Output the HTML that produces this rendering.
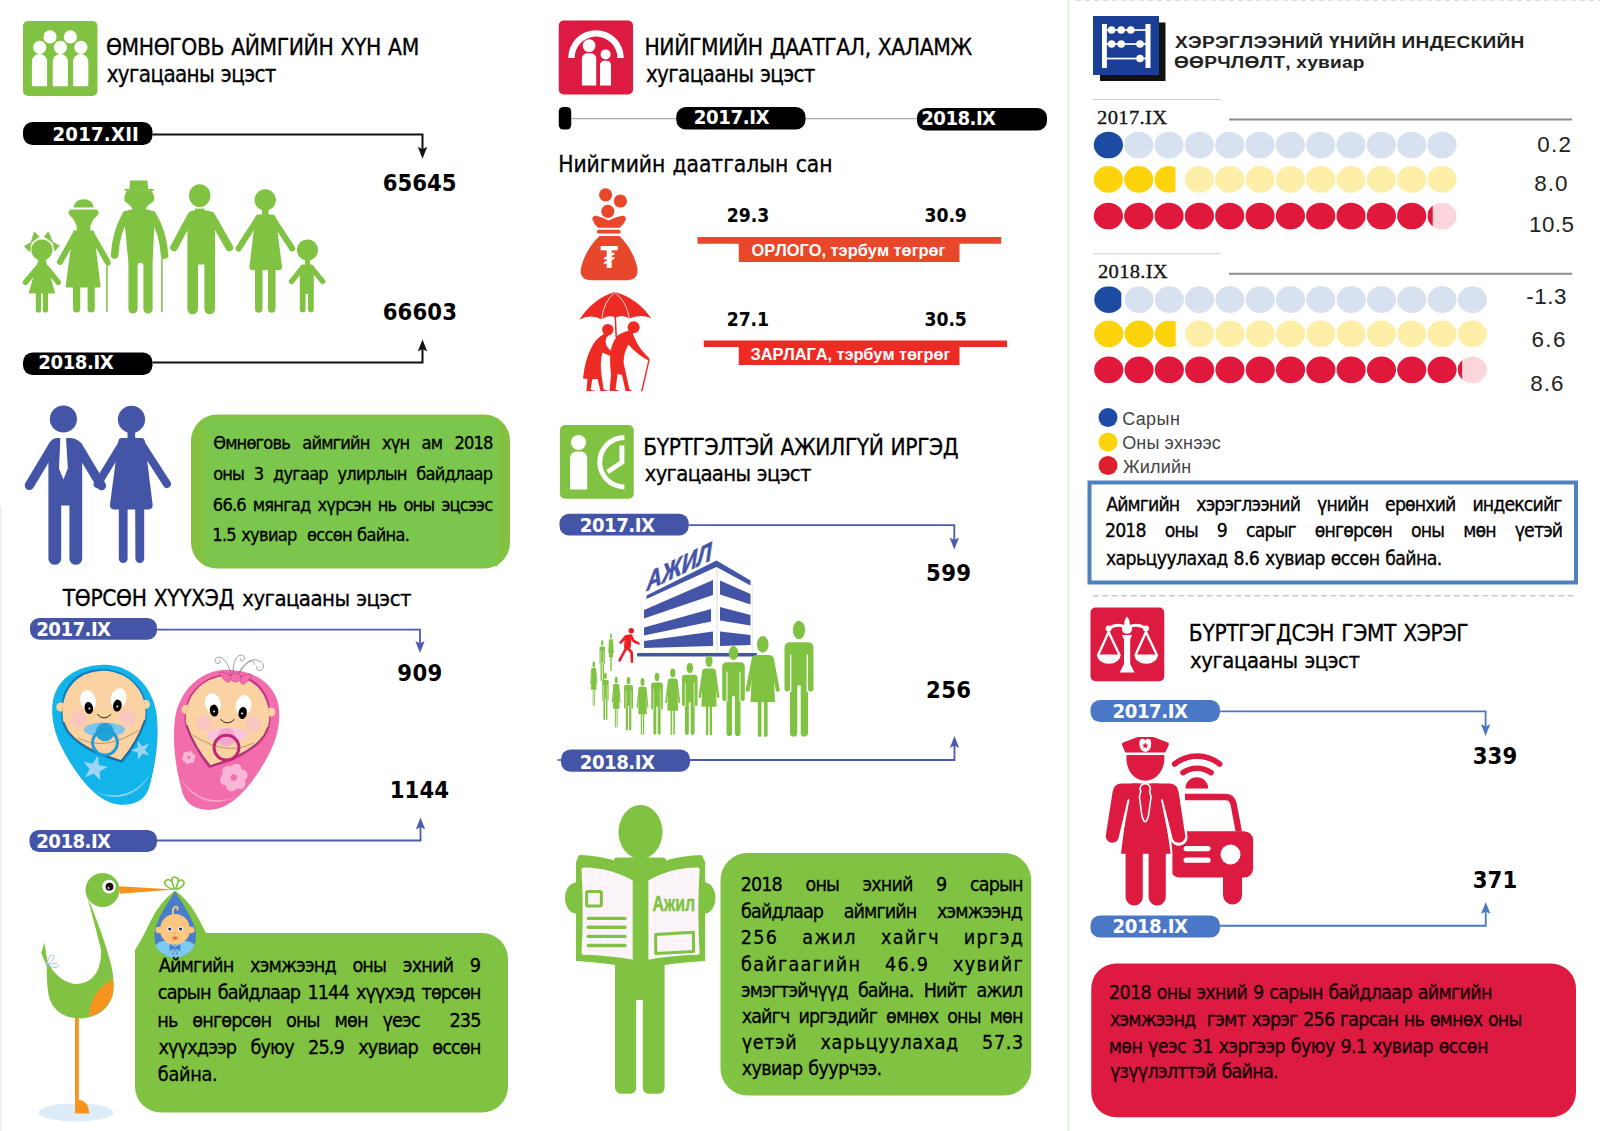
<!DOCTYPE html>
<html lang="mn">
<head>
<meta charset="utf-8">
<title>Өмнөговь аймаг — статистик үзүүлэлт</title>
<style>
html,body{margin:0;padding:0;background:#fff}
#page{position:relative;width:1600px;height:1131px;overflow:hidden;background:#fff}
#gfx{position:absolute;left:0;top:0;width:1600px;height:1131px}
.t{position:absolute;display:block;margin:0;padding:0;white-space:nowrap;line-height:0;font-kerning:none;font-weight:normal;font-style:normal;color:#000}
.t::before{content:"";display:inline-block;width:0;height:40px}
.j{text-align:justify;text-align-last:justify;white-space:normal}
.ft{font-family:"DejaVu Sans Condensed","DejaVu Sans","Liberation Sans",sans-serif}
.fa{font-family:"Liberation Sans","DejaVu Sans",sans-serif}
.fs{font-family:"Liberation Serif","DejaVu Serif",serif;-webkit-text-stroke:0.3px currentColor}
.b{font-weight:bold}
.ft:not(.b){-webkit-text-stroke:0.3px currentColor}
</style>
</head>
<body>
<main id="page">
<svg id="gfx" width="1600" height="1131" viewBox="0 0 1600 1131">
<rect x="23" y="21" width="74.50" height="75.00" rx="5" fill="#80C342" />
<g id="icon_people"><g fill="#fff">
<circle cx="50" cy="36.9" r="6.6"/><circle cx="70.4" cy="36.9" r="6.6"/>
<circle cx="39.75" cy="47.4" r="6.6"/><circle cx="60.4" cy="47.4" r="6.6"/><circle cx="80.9" cy="47.4" r="6.6"/>
<path d="M31.9 86.3V61.5a7.6 7.6 0 0 1 15.2 0V86.3Z"/>
<path d="M52.7 86.3V61.5a7.6 7.6 0 0 1 15.2 0V86.3Z"/>
<path d="M73.1 86.3V61.5a7.6 7.6 0 0 1 15.2 0V86.3Z"/>
</g>
</g>
<rect x="23" y="122" width="129.50" height="23.00" rx="9.5" fill="#000" />
<path d="M152.5 134.4H422.5V152.8" fill="none" stroke="#111" stroke-width="2.0"/>
<path d="M422.5 158.8L417.8 146.8L422.5 149.20000000000002L427.2 146.8Z" fill="#111"/>
<rect x="23" y="352.5" width="129.50" height="22.50" rx="9.5" fill="#000" />
<path d="M152.5 362.5H422.5V345.5" fill="none" stroke="#111" stroke-width="2.0"/>
<path d="M422.5 339.5L417.8 351.5L422.5 349.1L427.2 351.5Z" fill="#111"/>
<g id="family"><g fill="#80C342" stroke="#80C342" stroke-linecap="round" stroke-linejoin="round">
<!-- girl -->
<g>
<circle cx="41.9" cy="250" r="10.6" stroke="none"/>
<path d="M31 242.5L34.4 232L39 236.6ZM31 242.5L24.4 246.3L29.5 251.6ZM53 242.5L48.2 232L44.6 236.6ZM53 242.5L59.4 245.8L55 250.8Z" stroke-width="0.8"/>
<path d="M39 259H45.2L46 263L54.6 293H29.2L38 263Z" stroke-width="1"/>
<path d="M37.5 268L25.6 282.3M46.6 268L58.2 282.3" stroke-width="5.6" fill="none"/>
<path d="M35.8 292H41V310a2.6 2.6 0 0 1 -5.2 0ZM42.8 292H48V310a2.6 2.6 0 0 1 -5.2 0Z" stroke="none"/>
</g>
<!-- grandma -->
<g>
<path d="M73.6 207.4a10 8.2 0 0 1 20 0Z" stroke="none"/>
<path d="M71.5 209.6H96a3.2 3.2 0 0 1 1.6 5.6Q91.5 220 89.6 229H77.4Q75.5 220 69.6 215.2A3.2 3.2 0 0 1 71.5 209.6Z" stroke="none"/>
<path d="M77.6 228H89.4V231.5H93L99.6 286.5H66.6L74 231.5H77.6Z" stroke-width="2"/>
<path d="M75 235L60 262M92 235L107.6 262" stroke-width="6" fill="none"/>
<path d="M73 286H80.2V309a3.6 3.6 0 0 1 -7.2 0ZM87.6 286H94.8V309a3.6 3.6 0 0 1 -7.2 0Z" stroke="none"/>
<path d="M106.9 312V266L110.5 263.5" stroke-width="1.5" fill="none" stroke-linecap="butt"/>
</g>
<!-- grandpa -->
<g>
<path d="M130.2 180.6H147.4L148.2 189H153.8V190.8H124.4V189H129.4Z" stroke="none"/>
<path d="M127 190.5H151.5Q155.5 197 153.4 201.5Q147 205 144.6 211H133.6Q131 205 124.8 201.5Q123 197 127 190.5Z" stroke="none"/>
<path d="M133 209H145.5L155 211.5L152.6 262.8V309a4.6 4.6 0 0 1 -9.2 0V265.6a2.9 2.9 0 0 0 -5.8 0V309a4.6 4.6 0 0 1 -9.2 0V262.8L123.5 211.5Z" stroke="none"/>
<path d="M126 215Q116 232 114.6 255M152.5 215Q163 232 164.6 255" stroke-width="7.6" fill="none"/>
<path d="M161.9 312V259L165.5 256.5" stroke-width="1.6" fill="none" stroke-linecap="butt"/>
</g>
<!-- man -->
<g>
<ellipse cx="199.7" cy="195.6" rx="10.7" ry="11.4" stroke="none"/>
<path d="M195 208.6H204.6V211H195Z" stroke="none"/>
<path d="M193 210.6H207Q215 211 215 219V309a5.3 5.3 0 0 1 -10.6 0V264.4H198V309a5.3 5.3 0 0 1 -10.6 0V219Q187.4 211 193 210.6Z" stroke="none"/>
<path d="M191 216L174 247.5M211.4 216L229.4 247.5" stroke-width="7.6" fill="none"/>
</g>
<!-- woman -->
<g>
<circle cx="265.2" cy="200" r="10.7" stroke="none"/>
<path d="M262 209H268.6V216H262Z" stroke="none"/>
<path d="M258 214.4H272.8Q275.2 214.6 275.6 217L282 266.5Q282.2 270 279 270H252.2Q249 270 249.4 266.5L255.4 217Q255.8 214.6 258 214.4Z" stroke="none"/>
<path d="M258 218.5L238.6 248.5M272.6 218.5L292.2 248.5" stroke-width="6" fill="none"/>
<path d="M255 269H262.5V309a3.75 3.75 0 0 1 -7.5 0ZM268 269H275.5V309a3.75 3.75 0 0 1 -7.5 0Z" stroke="none"/>
</g>
<!-- boy -->
<g>
<circle cx="307.5" cy="250" r="10.6" stroke="none"/>
<path d="M305 259H310V266H305Z" stroke="none"/>
<path d="M302.4 264.4H311.6Q313.8 264.6 313.8 267V309.4a2.9 2.9 0 0 1 -5.8 0V294H305.6V309.4a2.9 2.9 0 0 1 -5.8 0V267Q300 264.6 302.4 264.4Z" stroke="none"/>
<path d="M302 268.4L291.6 281.4M312 268.4L322.6 281.4" stroke-width="5.4" fill="none"/>
</g>
</g>
</g>
<g id="couple"><g fill="#4454A6" stroke="#4454A6" stroke-linecap="round" stroke-linejoin="round">
<!-- man -->
<circle cx="63.4" cy="419" r="13.6" stroke="none"/>
<path d="M56 438H71Q82 439 82.2 450V558.4a5.8 5.8 0 0 1 -12.8 0V505.4H61.2V558.4a5.8 5.8 0 0 1 -12.8 0V450Q48.6 439 56 438Z" stroke="none"/>
<path d="M53 446L29.4 485.4M77.6 446L101.4 485.6" stroke-width="9.4" fill="none"/>
<path d="M57.4 433.6Q63.4 436.6 69.4 433.6L68.4 437.4H58.4Z" fill="#fff" stroke="none"/>
<path d="M60.4 437.2H66L67.8 468.6L63.4 479.6L59 468.6Z" fill="#fff" stroke="none"/>
<!-- woman -->
<circle cx="131.5" cy="419.4" r="13.6" stroke="none"/>
<path d="M127.5 430H135.2V440H127.5Z" stroke="none"/>
<path d="M121.6 438H141.8Q144.4 438.2 144.8 441L152.6 504.6Q153 509.2 148.6 509.4H114Q109.6 509.2 110 504.6L118.4 441Q118.8 438.2 121.6 438Z" stroke="none"/>
<path d="M122.6 443L97.6 484M140.6 443L167 484" stroke-width="8" fill="none"/>
<path d="M118.8 508H127.6V558.6a4.4 4.4 0 0 1 -8.8 0ZM135.2 508H144.2V558.6a4.4 4.4 0 0 1 -8.8 0Z" stroke="none"/>
</g>
</g>
<rect x="191" y="414.6" width="319.00" height="154.00" rx="26" fill="#84C141" />
<rect x="204.4" y="418" width="293.3" height="148" fill="#7BC64C"/>
<rect x="30" y="618" width="127.00" height="21.75" rx="9.5" fill="#4454A6" />
<path d="M157 629.7H420V647" fill="none" stroke="#4C5BB0" stroke-width="1.8"/>
<path d="M420 653L415.3 641L420 643.4L424.7 641Z" fill="#4C5BB0"/>
<rect x="29.5" y="830" width="127.50" height="22.00" rx="9.5" fill="#4454A6" />
<path d="M157 840.5H420.5V823.5" fill="none" stroke="#4C5BB0" stroke-width="1.8"/>
<path d="M420.5 817.5L415.8 829.5L420.5 827.1L425.2 829.5Z" fill="#4C5BB0"/>
<g id="babies"><g><path d="M100 665C126 662 152 682 156.6 714C160 742 154 770 149 788C144 804 126 808 110 802.5C90 795 72 768 61 746C51 726 49 702 57.5 688C67 672 84 666 100 665Z" fill="#12B4EA"/><path d="M62 722C58 700 66 680 84 672.5C104 665 128 670 141 690C147 700 148 712 146 721Q138 744 122.4 763L99 755.6Q66 740 62 722Z" fill="#0D7CC0"/><path d="M88 786C104 800 134 800 150 774C140 796 112 806 88 786Z" fill="#8FD3F4"/><path d="M97.7 755.8L99.0 764.9L107.9 767.1L99.7 771.2L100.3 780.4L93.9 773.8L85.3 777.2L89.6 769.1L83.7 762.0L92.8 763.6Z" fill="#9ED4F3"/><path d="M137.6 740.6L142.1 746.2L148.9 743.8L145.0 749.9L149.3 755.6L142.4 753.8L138.2 759.6L137.8 752.5L131.0 750.3L137.7 747.8Z" fill="#9ED4F3"/><circle cx="60.8" cy="707" r="4.6" fill="#FBD3A2"/><circle cx="145.4" cy="704.4" r="4.6" fill="#FBD3A2"/><path d="M64 722C60 702 68 683 85 675C104 667.5 126 672 138.5 690C145 700 146 712 144.5 720Q137 742 121 760.6L100 753.6Q68 739 64 722Z" fill="#FBD3A2" stroke="#111" stroke-width="0.5"/><path d="M64 722C60 702 68 683 85 675C104 667.5 126 672 138.5 690C145 700 146 712 144.5 720" fill="#FBD3A2" stroke="#FBD3A2" stroke-width="1.2"/><circle cx="78.6" cy="718.8" r="8" fill="#F9C7C0"/><circle cx="127.6" cy="718" r="8" fill="#F9C7C0"/><ellipse cx="88" cy="700.5" rx="7.8" ry="10.5" fill="#fff" transform="rotate(-14 88 700.5)"/><ellipse cx="118.6" cy="698.6" rx="7.8" ry="10.5" fill="#fff" transform="rotate(12 118.6 698.6)"/><ellipse cx="88.8" cy="708" rx="4.2" ry="6" fill="#000" transform="rotate(-10 88.8 708)"/><ellipse cx="117.4" cy="705.6" rx="4.3" ry="6" fill="#000" transform="rotate(8 117.4 705.6)"/><circle cx="89.4" cy="708.6" r="1" fill="#fff"/><circle cx="117.4" cy="706.4" r="1" fill="#fff"/><path d="M97.4 714.6Q104 721.6 110.8 714.6" fill="none" stroke="#111" stroke-width="0.9" stroke-linecap="round"/><path d="M78 738Q105 752 139 730" fill="none" stroke="#6b5a3a" stroke-width="0.5"/><ellipse cx="104.4" cy="729.6" rx="20.6" ry="7.2" fill="#7FC5EB"/><circle cx="105" cy="732" r="9.2" fill="#21A3D4"/><circle cx="105" cy="742.6" r="12.4" fill="none" stroke="#1C9CD8" stroke-width="3"/></g><g transform="translate(331.5 5) scale(-1 1)"><path d="M100 665C126 662 152 682 156.6 714C160 742 154 770 149 788C144 804 126 808 110 802.5C90 795 72 768 61 746C51 726 49 702 57.5 688C67 672 84 666 100 665Z" fill="#F26DAC"/><path d="M62 722C58 700 66 680 84 672.5C104 665 128 670 141 690C147 700 148 712 146 721Q138 744 122.4 763L99 755.6Q66 740 62 722Z" fill="#C8308A"/><path d="M88 786C104 800 134 800 150 774C140 796 112 806 88 786Z" fill="#F9A9CE"/><circle cx="105.8" cy="774.7" r="5.7" fill="#F9B6D6"/><circle cx="99.9" cy="780.6" r="5.7" fill="#F9B6D6"/><circle cx="91.8" cy="778.4" r="5.7" fill="#F9B6D6"/><circle cx="89.7" cy="770.3" r="5.7" fill="#F9B6D6"/><circle cx="95.6" cy="764.4" r="5.7" fill="#F9B6D6"/><circle cx="103.7" cy="766.6" r="5.7" fill="#F9B6D6"/><circle cx="97.75" cy="772.5" r="3.0" fill="#F06EAA"/><circle cx="146.6" cy="753.5" r="2.7" fill="#F9B6D6"/><circle cx="143.8" cy="756.4" r="2.7" fill="#F9B6D6"/><circle cx="139.9" cy="755.3" r="2.7" fill="#F9B6D6"/><circle cx="138.9" cy="751.5" r="2.7" fill="#F9B6D6"/><circle cx="141.7" cy="748.6" r="2.7" fill="#F9B6D6"/><circle cx="145.6" cy="749.7" r="2.7" fill="#F9B6D6"/><circle cx="142.75" cy="752.5" r="1.4" fill="#F06EAA"/><circle cx="60.8" cy="707" r="4.6" fill="#FBD3A2"/><circle cx="145.4" cy="704.4" r="4.6" fill="#FBD3A2"/><path d="M64 722C60 702 68 683 85 675C104 667.5 126 672 138.5 690C145 700 146 712 144.5 720Q137 742 121 760.6L100 753.6Q68 739 64 722Z" fill="#FBD3A2" stroke="#111" stroke-width="0.5"/><path d="M64 722C60 702 68 683 85 675C104 667.5 126 672 138.5 690C145 700 146 712 144.5 720" fill="#FBD3A2" stroke="#FBD3A2" stroke-width="1.2"/><circle cx="78.6" cy="718.8" r="8" fill="#F9C7C0"/><circle cx="127.6" cy="718" r="8" fill="#F9C7C0"/><ellipse cx="88" cy="700.5" rx="7.8" ry="10.5" fill="#fff" transform="rotate(-14 88 700.5)"/><ellipse cx="118.6" cy="698.6" rx="7.8" ry="10.5" fill="#fff" transform="rotate(12 118.6 698.6)"/><ellipse cx="88.8" cy="708" rx="4.2" ry="6" fill="#000" transform="rotate(-10 88.8 708)"/><ellipse cx="117.4" cy="705.6" rx="4.3" ry="6" fill="#000" transform="rotate(8 117.4 705.6)"/><circle cx="89.4" cy="708.6" r="1" fill="#fff"/><circle cx="117.4" cy="706.4" r="1" fill="#fff"/><path d="M97.4 714.6Q104 721.6 110.8 714.6" fill="none" stroke="#111" stroke-width="0.9" stroke-linecap="round"/><path d="M78 738Q105 752 139 730" fill="none" stroke="#6b5a3a" stroke-width="0.5"/><ellipse cx="104.4" cy="729.6" rx="20.6" ry="7.2" fill="#FAC6DE"/><circle cx="105" cy="732" r="9.2" fill="#F6A8CC"/><circle cx="105" cy="742.6" r="12.4" fill="none" stroke="#C2247A" stroke-width="3"/></g><g fill="none" stroke="#666" stroke-width="0.6"><path d="M231 673Q227 660 221 657.5Q215.5 656 215 660.5Q215.5 664.5 219.5 663Q221.5 661 219 660"/><path d="M233 673Q233 659 239 655.5Q244 654 244.6 658Q244 661.6 241 660.6Q239.6 659 241.6 658"/><path d="M238 673.6Q246 660 254 659.6Q263 660.6 263.6 666Q263 671 258.6 670.6Q255.6 669 257 666"/><path d="M239 674Q245 663 251 661Q255 661 254 665"/></g><g fill="#F06EAA" stroke="#C8308A" stroke-width="0.5"><path d="M232 676.6Q222 670.6 219 672.6Q222.6 680 228 682.6Q231.6 681 232 676.6Z"/><path d="M239.6 677.6Q248 672 251.6 674.6Q248.6 682 243 684.6Q239.6 683 239.6 677.6Z"/><ellipse cx="235.6" cy="677.6" rx="5.2" ry="4.4"/></g></g>
<g id="stork"><ellipse cx="76" cy="1112.4" rx="37.5" ry="9" fill="#DCECF8"/>
<path d="M75 1010H78.8V1100Q88 1100 89.4 1113.6H75Z" fill="#F7941E"/>
<path d="M87.4 897.6L91.6 907Q104 938 110.4 962Q115.6 982 112.4 996Q106 1016 82 1018.4Q58 1019 50 1000Q46.4 990 46.8 966L41.2 953L44.4 942.6L47.4 961Q56 980 74 984Q92 984.6 98.6 968Q103 954 99.6 944Q93 918 87.4 897.6Z" fill="#80C342"/>
<path d="M112.6 979.4Q115.4 990 110.6 1000Q104 1012 89.6 1017Q88.6 1006 95 995Q101.6 984.6 112.6 979.4Z" fill="#F7941E"/>
<circle cx="102.5" cy="890" r="17" fill="#80C342"/>
<path d="M119 886.2L175 889.6L119.6 893.8Z" fill="#F7941E"/>
<circle cx="109" cy="886.6" r="6.8" fill="#fff"/>
<circle cx="109.5" cy="886.7" r="3.9" fill="#111"/>
<circle cx="108.6" cy="888" r="0.9" fill="#fff"/>
<path d="M46.6 964.6Q50 952 54 955.6Q55.6 959 47 965Q57 961 59 965.6Q57 970 46.6 964.6Z" fill="#fff" stroke="#5F8FD8" stroke-width="0.5"/>
</g>
<rect x="135" y="933" width="373.00" height="179.50" rx="26" fill="#80C342" />
<g id="bundle"><path d="M175 890.6Q160 902 150.6 921Q141 941 135 950V960H212V933H206Q202 925 195.4 913Q187 899 175 890.6Z" fill="#80C342"/>
<g fill="none" stroke="#80C342" stroke-width="1.7"><path d="M173.6 889.6Q163 886 165 881.4Q168.6 877.6 172 882Q171 877 175 877Q179 877.6 178 882Q181.6 877.6 184 882Q184.6 886.6 176 889.6"/><path d="M172 882L174.6 889.6M178 882L175.6 889.6"/></g>
<path d="M175 891.4Q183 903 190.4 917Q196.6 929 196 938Q194 956 175 957.6Q156 956 154.4 938Q154 929 159.6 917Q167 903 175 891.4Z" fill="#4A7DC9"/>
<path d="M158.6 942.6Q166 938 175 946Q184 938 191.6 942.6Q196 945 193.6 948Q186 957.4 175 957.6Q164 957.4 156.4 948Q155 945 158.6 942.6Z" fill="#7DC9F1"/>
<path d="M175 947.6L170 944.6V950.6ZM175 947.6L180 944.6V950.6ZM175 947.6L172.6 955M175 947.6L177.4 955" fill="#4A7DC9" stroke="#4A7DC9" stroke-width="0.8"/>
<circle cx="158.8" cy="930" r="3.2" fill="#FBC780"/><circle cx="191.2" cy="930" r="3.2" fill="#FBC780"/>
<ellipse cx="175" cy="929.4" rx="15" ry="15.4" fill="#FBC780"/>
<path d="M173 914.6Q172 907.6 176 906.6Q179 907.6 177 910.6" fill="none" stroke="#FBC780" stroke-width="1.8"/>
<circle cx="169.8" cy="929" r="2.5" fill="#fff"/><circle cx="180.6" cy="929" r="2.5" fill="#fff"/>
<circle cx="169.8" cy="929" r="1.6" fill="#1F2A5C"/><circle cx="180.6" cy="929" r="1.6" fill="#1F2A5C"/>
<ellipse cx="175" cy="938" rx="2.8" ry="1.7" fill="#F26A3C"/>
<circle cx="175" cy="933.2" r="1.2" fill="#F5B066"/>
</g>
<rect x="558.75" y="20.5" width="74.25" height="74.00" rx="5" fill="#DD1A3F" />
<g id="icon_care"><g fill="#fff">
<path d="M568.2 57.9a27.8 27.8 0 0 1 55.6 0H617.4a21.4 21.4 0 0 0 -42.8 0Z"/>
<circle cx="589.1" cy="45.6" r="6.4"/>
<path d="M581.9 85.6V58.5a5.2 5.2 0 0 1 5.2 -5.2H591a5.2 5.2 0 0 1 5.2 5.2V85.6Z"/>
<circle cx="605.6" cy="54.4" r="5"/>
<path d="M600 85.6V65a4.2 4.2 0 0 1 4.2 -4.2H606.8a4.2 4.2 0 0 1 4.2 4.2V85.6Z"/>
</g>
</g>
<rect x="558.75" y="107" width="12.50" height="22.50" rx="4.5" fill="#000" />
<path d="M571 118.6H677M805 118.6H918" stroke="#aaa" stroke-width="1.4" fill="none"/>
<rect x="676.25" y="107" width="129.25" height="22.50" rx="9.5" fill="#000" />
<rect x="917" y="108" width="130.00" height="22.50" rx="9.5" fill="#000" />
<g id="moneybag"><g fill="#E8472B">
<circle cx="605.6" cy="194.8" r="6.6"/><circle cx="620.4" cy="201" r="6.6"/><circle cx="607.8" cy="211.3" r="6.6"/>
<path d="M592.4 219.4Q592 215.4 596.4 215.8Q603 217.6 608.6 220.4Q616 217 622 215.8Q626.4 215.6 625.8 219.6Q624 224.4 619.6 227.8H598.2Q594 224.4 592.4 219.4Z"/>
<rect x="597" y="229.8" width="23.6" height="3.8" rx="1.6"/>
<path d="M599.6 236H619.4Q630 246 635.4 261Q638.6 270 637 274.6Q635 280.2 627 280.2H591Q583 280.2 581.2 274.6Q579.6 270 583 261Q588.6 246 599.6 236Z"/>
</g>
<text transform="translate(609.2 268) scale(0.84 1)" text-anchor="middle" font-family="'DejaVu Sans','Liberation Sans',sans-serif" font-weight="bold" font-size="30" fill="#fff">₮</text>
</g>
<g id="umbrella"><g fill="#EE2A24" stroke="none">
<path d="M614.8 292Q594 298 579.4 319.4Q591 313.6 601.6 319.4Q608 314.4 615.4 317.6Q622.6 314 629.4 318.6Q640 313.4 651.2 318.2Q637 298 614.8 292Z"/>
<path d="M614.6 317H616L617 337H615.4Z"/>
<circle cx="607.8" cy="329.6" r="5.7"/>
<path d="M604.6 333.6Q596 338 590.6 349Q584.6 362 583 378.4L587.4 379L586.4 391H595L590.6 389.6L592.4 379H597.6L600.4 391H609L603.6 389.4L602 378.4Q599.4 364 602.4 352.6L610.4 356L612 351.6Q605.4 347 605.6 341Q606 337 609 335Z"/>
<circle cx="633.6" cy="327.2" r="6"/>
<path d="M629 330.6Q620 333 616.6 336.6Q611.6 344 610.6 352Q609.4 362 611 374L609.6 391H619.4L615.6 389.4L617.6 374L622 375L625.6 391H632.6L629.4 389.2L623.6 363Q623.6 352 628.6 344.6Q636 354 648.6 360.6L649.6 358.4Q639 349 634.6 338Q633 334 632.6 332Z"/>
<path d="M648.4 359.4L649.8 359.8L642.4 391.4L641 391.2Z"/>
</g>
<g fill="none" stroke="#fff" stroke-width="0.8"><path d="M614.8 292.4Q603.4 302 601.6 319.4"/><path d="M614.8 292.4Q627 302 629.4 318.6"/></g>
</g>
<path d="M697.5 237H1001.25V243.75H959.5V262H738.75V243.75H697.5Z" fill="#E8472B"/>
<path d="M703.75 340.5H1007V347H959.5V365H738.75V347H703.75Z" fill="#EE2A24"/>
<rect x="560" y="425" width="73.75" height="73.75" rx="5" fill="#80C342" />
<g id="icon_job"><g fill="#fff">
<circle cx="578.5" cy="442.5" r="7.6"/>
<path d="M570 489.4V458a6.6 6.6 0 0 1 6.6 -6.6H580.6a6.6 6.6 0 0 1 6.6 6.6V489.4Z"/>
<path d="M624.4 435V440A22.2 22.2 0 0 0 624.4 484.4V489.4A27.2 27.2 0 0 1 624.4 435Z"/>
<path d="M619.4 445.6H624.4V463.6L608.8 474L606.2 470L619.4 461Z"/>
</g>
</g>
<rect x="559.5" y="513.75" width="129.25" height="21.75" rx="9.5" fill="#4454A6" />
<path d="M688.75 525.1H954.3V543.6" fill="none" stroke="#4C5BB0" stroke-width="1.8"/>
<path d="M954.3 549.6L949.5999999999999 537.6L954.3 540.0L959.0 537.6Z" fill="#4C5BB0"/>
<path d="M557.5 760H562" stroke="#4B5BB0" stroke-width="1.6"/>
<rect x="561" y="749.5" width="129.00" height="22.25" rx="9.5" fill="#4454A6" />
<path d="M690 760H954.5V742" fill="none" stroke="#4C5BB0" stroke-width="1.8"/>
<path d="M954.5 736L949.8 748L954.5 745.6L959.2 748Z" fill="#4C5BB0"/>
<g id="building"><path d="M641.4 601L717 564.5L752.6 585V653H641.4Z" fill="#fff" stroke="#dfe8dc" stroke-width="0.8"/><path d="M717 567V653" stroke="#d5dde4" stroke-width="1" fill="none"/><g fill="#4454A6"><path d="M646.5 599V595.5L716.5 560.5L750.5 580.5V585.5L716.5 567Z"/><path d="M644 610L713 580V595L644 618.5Z"/><path d="M644 627.5L711 609V621.5L644 635.5Z"/><path d="M644 641L713 631.5V646L644 648Z"/><path d="M720 580.5L750.5 594V604.5L720 594.5Z"/><path d="M720 607L750.5 615V625.5L720 620.5Z"/><path d="M720 631.5L750.5 635V645L720 646Z"/><rect x="637" y="653" width="120" height="3.6" rx="1"/></g><text transform="translate(646.5 591) skewY(-25.7) scale(0.82 1)" font-family="'Liberation Sans','DejaVu Sans',sans-serif" font-weight="bold" font-style="italic" font-size="26" fill="#4454A6" stroke="#4454A6" stroke-width="0.7">АЖИЛ</text></g>
<g id="queue"><g fill="#80C342"><ellipse cx="593.8" cy="664.4" rx="1.3" ry="3.2"/><path d="M592.4 668.1H595.1Q596.0 668.1 596.0 668.9L596.5 689.7H591.0L591.5 668.9Q591.5 668.1 592.4 668.1Z"/><path d="M591.8 668.9L590.5 684.0M595.7 668.9L597.0 684.0" fill="none" stroke="#80C342" stroke-width="0.9" stroke-linecap="round"/><path d="M592.7 688.7h0.8V705.6a0.4 0.4 0 0 1 -0.8 0Z"/><path d="M594.0 688.7h0.8V705.6a0.4 0.4 0 0 1 -0.8 0Z"/><ellipse cx="602.2" cy="643.0" rx="1.2" ry="3.0"/><path d="M600.6 646.5H603.9Q605.0 646.5 605.0 647.6V663.8a0.5 0.5 0 0 1 -1.0 0V648.3H604.0V680.3a0.7 0.7 0 0 1 -1.4 0V662.4H601.9V680.3a0.7 0.7 0 0 1 -1.4 0V648.3H600.5V663.8a0.5 0.5 0 0 1 -1.0 0V647.6Q599.5 646.5 600.6 646.5Z"/><path d="M600.8 651.0V664.3M603.7 651.0V664.3" stroke="#fff" stroke-width="0.50" fill="none"/><ellipse cx="611.0" cy="636.0" rx="1.0" ry="2.8"/><path d="M609.9 639.2H612.1Q612.8 639.2 612.8 639.8L613.2 657.3H608.8L609.2 639.8Q609.2 639.2 609.9 639.2Z"/><path d="M609.4 639.8L608.4 652.6M612.6 639.8L613.6 652.6" fill="none" stroke="#80C342" stroke-width="0.7" stroke-linecap="round"/><path d="M610.1 656.3h0.7V670.7a0.3 0.3 0 0 1 -0.7 0Z"/><path d="M611.2 656.3h0.7V670.7a0.3 0.3 0 0 1 -0.7 0Z"/><ellipse cx="605.4" cy="676.0" rx="1.4" ry="3.2"/><path d="M603.4 679.9H607.4Q608.6 679.9 608.6 681.1V699.9a0.6 0.6 0 0 1 -1.2 0V681.9H607.4V719.2a0.8 0.8 0 0 1 -1.6 0V698.3H605.0V719.2a0.8 0.8 0 0 1 -1.6 0V681.9H603.4V699.9a0.6 0.6 0 0 1 -1.2 0V681.1Q602.1 679.9 603.4 679.9Z"/><path d="M603.6 685.1V700.5M607.2 685.1V700.5" stroke="#fff" stroke-width="0.50" fill="none"/><ellipse cx="616.2" cy="680.0" rx="1.5" ry="3.3"/><path d="M614.6 683.9H617.9Q619.0 683.9 619.0 684.8L619.5 708.8H613.0L613.5 684.8Q613.5 683.9 614.6 683.9Z"/><path d="M613.9 684.8L612.3 702.2M618.6 684.8L620.2 702.2" fill="none" stroke="#80C342" stroke-width="1.1" stroke-linecap="round"/><path d="M614.9 707.8h1.0V727.0a0.5 0.5 0 0 1 -1.0 0Z"/><path d="M616.6 707.8h1.0V727.0a0.5 0.5 0 0 1 -1.0 0Z"/><ellipse cx="628.5" cy="680.6" rx="1.9" ry="3.6"/><path d="M625.8 685.1H631.2Q633.0 685.1 633.0 686.9V707.9a0.9 0.9 0 0 1 -1.7 0V688.0H631.3V729.5a1.1 1.1 0 0 1 -2.2 0V706.0H628.0V729.5a1.1 1.1 0 0 1 -2.2 0V688.0H625.7V707.9a0.9 0.9 0 0 1 -1.7 0V686.9Q624.0 685.1 625.8 685.1Z"/><path d="M626.0 691.0V708.7M631.0 691.0V708.7" stroke="#fff" stroke-width="0.50" fill="none"/><ellipse cx="642.5" cy="682.0" rx="2.0" ry="3.9"/><path d="M640.3 686.7H644.7Q646.1 686.7 646.1 687.9L646.8 714.2H638.2L638.9 687.9Q638.9 686.7 640.3 686.7Z"/><path d="M639.3 687.9L637.2 707.0M645.7 687.9L647.8 707.0" fill="none" stroke="#80C342" stroke-width="1.4" stroke-linecap="round"/><path d="M640.8 713.2h1.3V734.3a0.7 0.7 0 0 1 -1.3 0Z"/><path d="M642.9 713.2h1.3V734.3a0.7 0.7 0 0 1 -1.3 0Z"/><ellipse cx="657.0" cy="677.0" rx="2.4" ry="4.2"/><path d="M653.5 682.4H660.5Q662.8 682.4 662.8 684.6V708.5a1.1 1.1 0 0 1 -2.2 0V686.0H660.6V733.3a1.4 1.4 0 0 1 -2.9 0V706.5H656.3V733.3a1.4 1.4 0 0 1 -2.9 0V686.0H653.4V708.5a1.1 1.1 0 0 1 -2.2 0V684.6Q651.2 682.4 653.5 682.4Z"/><path d="M653.7 689.2V709.6M660.3 689.2V709.6" stroke="#fff" stroke-width="0.52" fill="none"/><ellipse cx="672.8" cy="673.0" rx="2.6" ry="4.6"/><path d="M670.0 678.6H675.5Q677.2 678.6 677.2 680.1L678.1 710.8H667.4L668.2 680.1Q668.2 678.6 670.0 678.6Z"/><path d="M668.8 680.1L666.1 702.3M676.7 680.1L679.4 702.3" fill="none" stroke="#80C342" stroke-width="1.8" stroke-linecap="round"/><path d="M670.6 709.8h1.6V734.2a0.8 0.8 0 0 1 -1.6 0Z"/><path d="M673.3 709.8h1.6V734.2a0.8 0.8 0 0 1 -1.6 0Z"/><ellipse cx="689.8" cy="668.0" rx="3.3" ry="5.2"/><path d="M685.1 674.8H694.4Q697.5 674.8 697.5 677.9V704.9a1.5 1.5 0 0 1 -2.9 0V679.7H694.6V733.1a1.9 1.9 0 0 1 -3.9 0V702.5H688.8V733.1a1.9 1.9 0 0 1 -3.9 0V679.7H684.9V704.9a1.5 1.5 0 0 1 -2.9 0V677.9Q682.0 674.8 685.1 674.8Z"/><path d="M685.3 682.6V706.3M694.2 682.6V706.3" stroke="#fff" stroke-width="0.70" fill="none"/><ellipse cx="709.0" cy="661.2" rx="3.6" ry="5.8"/><path d="M705.2 668.5H712.8Q715.3 668.5 715.3 670.6L716.6 706.8H701.4L702.7 670.6Q702.7 668.5 705.2 668.5Z"/><path d="M703.5 670.6L699.8 696.7M714.5 670.6L718.2 696.7" fill="none" stroke="#80C342" stroke-width="2.5" stroke-linecap="round"/><path d="M706.0 705.8h2.3V734.4a1.2 1.2 0 0 1 -2.3 0Z"/><path d="M709.7 705.8h2.3V734.4a1.2 1.2 0 0 1 -2.3 0Z"/><ellipse cx="733.5" cy="653.0" rx="4.7" ry="7.0"/><path d="M726.8 662.2H740.2Q744.8 662.2 744.8 666.8V699.1a2.1 2.1 0 0 1 -4.3 0V669.5H740.5V733.2a2.8 2.8 0 0 1 -5.6 0V696.2H732.1V733.2a2.8 2.8 0 0 1 -5.6 0V669.5H726.5V699.1a2.1 2.1 0 0 1 -4.3 0V666.8Q722.2 662.2 726.8 662.2Z"/><path d="M727.0 671.8V701.3M740.0 671.8V701.3" stroke="#fff" stroke-width="1.01" fill="none"/><ellipse cx="762.8" cy="644.4" rx="5.8" ry="8.3"/><path d="M756.6 655.1H768.9Q773.0 655.1 773.0 658.5L775.0 702.1H750.5L752.5 658.5Q752.5 655.1 756.6 655.1Z"/><path d="M753.8 658.5L747.8 689.7M771.7 658.5L777.7 689.7" fill="none" stroke="#80C342" stroke-width="4.1" stroke-linecap="round"/><path d="M757.8 701.1h3.7V735.6a1.9 1.9 0 0 1 -3.7 0Z"/><path d="M763.9 701.1h3.7V735.6a1.9 1.9 0 0 1 -3.7 0Z"/><ellipse cx="799.0" cy="630.0" rx="6.1" ry="9.3"/><path d="M790.3 642.2H807.7Q813.5 642.2 813.5 648.0V689.3a2.8 2.8 0 0 1 -5.5 0V651.5H808.0V732.9a3.6 3.6 0 0 1 -7.3 0V685.6H797.3V732.9a3.6 3.6 0 0 1 -7.3 0V651.5H790.0V689.3a2.8 2.8 0 0 1 -5.5 0V648.0Q784.5 642.2 790.3 642.2Z"/><path d="M790.7 654.5V692.1M807.3 654.5V692.1" stroke="#fff" stroke-width="1.30" fill="none"/></g><g fill="#EE1C25" stroke="#EE1C25" stroke-linecap="round" stroke-linejoin="round"><circle cx="631.3" cy="630.8" r="2.7" stroke="none"/><path d="M626 636.4L631 635.6L633.6 641L638.4 643.4M626 636.4L620.6 642.6M627.4 638L626.4 647.6L619.6 660.4M627.6 647.6L631.6 652.4L632 661.6" fill="none" stroke-width="2.6"/><path d="M625.4 636L631.4 635.4L630 648H625Z" stroke-width="1"/></g></g>
<g id="reader"><g fill="#80C342">
<ellipse cx="640.5" cy="832" rx="22" ry="27"/>
<path d="M614 860Q614 857.6 618 857.6H662Q666 857.6 666 860V880H614Z"/>
<path d="M615 955H664.6V1088a5.8 5.8 0 0 1 -5.8 5.8H648.6a5.8 5.8 0 0 1 -5.8 -5.8V1000H636.2V1088a5.8 5.8 0 0 1 -5.8 5.8H620.8a5.8 5.8 0 0 1 -5.8 -5.8Z"/>
<ellipse cx="576.4" cy="898" rx="11.4" ry="15.4"/><ellipse cx="704.8" cy="898" rx="10.6" ry="15.4"/>
<path d="M578 857.6Q577.6 855 580.6 855Q612 856 640 871.4Q668 856 700.6 855Q703 855 702.8 857.6L705.2 862V961Q670 962.6 640 970Q610 962.6 576 961V862Z"/>
</g>
<g fill="#FCF6FA">
<path d="M581.5 869Q581.5 867.4 583.6 867.4Q612 868 632.7 880.5V959.8Q612 955.6 583.6 954.8Q581.5 954.8 581.5 953Q584 911 581.5 869Z"/>
<path d="M699.6 869Q699.6 867.4 697.4 867.4Q669 868 648.4 880.5V959.8Q669 955.6 697.4 954.8Q699.6 954.8 699.6 953Q697 911 699.6 869Z"/>
</g>
<g stroke="#F4E4EF" stroke-width="0.5" fill="none"><path d="M590 869V955M599 871V956M608 873V956.6M617 876V957.6M626 878.6V958.6M655 878.6V958.6M664 876V957.6M673 873V956.6M682 871V956M691 869V955M582 887H632M582 896H632M582 905H632M582 914H632M582 923H632M582 932H632M582 941H632M582 950H632M649 887H699M649 896H699M649 905H699M649 914H699M649 923H699M649 932H699M649 941H699M649 950H699"/></g>
<g fill="none" stroke="#80C342" stroke-linecap="round">
<rect x="586.6" y="891.4" width="14.8" height="14.6" rx="1.6" stroke-width="3"/>
<path d="M588.2 918.4H625M588.2 927.2H625M588.2 936.4H625M588.2 945.5H625" stroke-width="3.4"/>
<path d="M655.6 934.4L693.4 932.2L693.6 951.4L655.8 953.6Z" stroke-width="3" stroke-linejoin="round"/>
</g>
<text transform="translate(652.4 911.4) scale(0.74 1)" font-family="'Liberation Sans','DejaVu Sans',sans-serif" font-weight="bold" font-size="21.5" fill="#80C342" stroke="#80C342" stroke-width="0.5">Ажил</text>
</g>
<rect x="720.5" y="853" width="310.75" height="242.50" rx="27" fill="#80C342" />
<rect x="1067.6" y="0" width="1.5" height="1131" fill="#DBF1D1"/>
<rect x="0" y="506" width="1.2" height="625" fill="#E8EBF5"/>
<path d="M1076 0.6H1600" stroke="#dcdcdc" stroke-width="1" stroke-dasharray="5 4"/>
<rect x="1100" y="22.5" width="65.5" height="58.5" fill="#111"/>
<rect x="1093" y="16" width="66" height="59" fill="#1B3F95"/>
<g id="icon_abacus"><g fill="#fff">
<rect x="1102" y="24" width="4.9" height="44"/><rect x="1145.5" y="24" width="5" height="44"/>
<rect x="1104" y="29.2" width="44" height="1.7"/><rect x="1104" y="43.2" width="44" height="1.7"/><rect x="1104" y="57.7" width="44" height="1.7"/>
</g>
<g fill="#FDFBEF">
<circle cx="1111.6" cy="30" r="3.8"/><circle cx="1121.2" cy="30" r="3.8"/><circle cx="1130.8" cy="30" r="3.8"/>
<circle cx="1111.6" cy="44" r="3.8"/><circle cx="1121.2" cy="44" r="3.8"/><circle cx="1140" cy="44" r="3.8"/>
<circle cx="1140" cy="58.5" r="3.8"/>
</g>
</g>
<path d="M1093 99.5H1221" stroke="#ccc" stroke-width="1"/>
<path d="M1229 119.6H1572" stroke="#8c8c8c" stroke-width="2"/>
<ellipse cx="1138.73" cy="145" rx="14.6" ry="13.3" fill="#D8E1EF"/>
<ellipse cx="1169.06" cy="145" rx="14.6" ry="13.3" fill="#D8E1EF"/>
<ellipse cx="1199.39" cy="145" rx="14.6" ry="13.3" fill="#D8E1EF"/>
<ellipse cx="1229.72" cy="145" rx="14.6" ry="13.3" fill="#D8E1EF"/>
<ellipse cx="1260.05" cy="145" rx="14.6" ry="13.3" fill="#D8E1EF"/>
<ellipse cx="1290.38" cy="145" rx="14.6" ry="13.3" fill="#D8E1EF"/>
<ellipse cx="1320.71" cy="145" rx="14.6" ry="13.3" fill="#D8E1EF"/>
<ellipse cx="1351.04" cy="145" rx="14.6" ry="13.3" fill="#D8E1EF"/>
<ellipse cx="1381.37" cy="145" rx="14.6" ry="13.3" fill="#D8E1EF"/>
<ellipse cx="1411.70" cy="145" rx="14.6" ry="13.3" fill="#D8E1EF"/>
<ellipse cx="1442.03" cy="145" rx="14.6" ry="13.3" fill="#D8E1EF"/>
<ellipse cx="1108.40" cy="145" rx="14.6" ry="13.3" fill="#1B4CA2"/>
<ellipse cx="1199.39" cy="179.4" rx="14.6" ry="13.3" fill="#FDEFA8"/>
<ellipse cx="1229.72" cy="179.4" rx="14.6" ry="13.3" fill="#FDEFA8"/>
<ellipse cx="1260.05" cy="179.4" rx="14.6" ry="13.3" fill="#FDEFA8"/>
<ellipse cx="1290.38" cy="179.4" rx="14.6" ry="13.3" fill="#FDEFA8"/>
<ellipse cx="1320.71" cy="179.4" rx="14.6" ry="13.3" fill="#FDEFA8"/>
<ellipse cx="1351.04" cy="179.4" rx="14.6" ry="13.3" fill="#FDEFA8"/>
<ellipse cx="1381.37" cy="179.4" rx="14.6" ry="13.3" fill="#FDEFA8"/>
<ellipse cx="1411.70" cy="179.4" rx="14.6" ry="13.3" fill="#FDEFA8"/>
<ellipse cx="1442.03" cy="179.4" rx="14.6" ry="13.3" fill="#FDEFA8"/>
<ellipse cx="1108.40" cy="179.4" rx="14.6" ry="13.3" fill="#FDD30B"/>
<ellipse cx="1138.73" cy="179.4" rx="14.6" ry="13.3" fill="#FDD30B"/>
<clipPath id="c1108_179"><rect x="1154.46" y="166.1" width="21.02" height="26.6"/></clipPath>
<ellipse cx="1169.06" cy="179.4" rx="14.6" ry="13.3" fill="#FDD30B" clip-path="url(#c1108_179)"/>
<ellipse cx="1442.03" cy="216" rx="14.6" ry="13.3" fill="#FAD6DA"/>
<ellipse cx="1108.40" cy="216" rx="14.6" ry="13.3" fill="#E0183B"/>
<ellipse cx="1138.73" cy="216" rx="14.6" ry="13.3" fill="#E0183B"/>
<ellipse cx="1169.06" cy="216" rx="14.6" ry="13.3" fill="#E0183B"/>
<ellipse cx="1199.39" cy="216" rx="14.6" ry="13.3" fill="#E0183B"/>
<ellipse cx="1229.72" cy="216" rx="14.6" ry="13.3" fill="#E0183B"/>
<ellipse cx="1260.05" cy="216" rx="14.6" ry="13.3" fill="#E0183B"/>
<ellipse cx="1290.38" cy="216" rx="14.6" ry="13.3" fill="#E0183B"/>
<ellipse cx="1320.71" cy="216" rx="14.6" ry="13.3" fill="#E0183B"/>
<ellipse cx="1351.04" cy="216" rx="14.6" ry="13.3" fill="#E0183B"/>
<ellipse cx="1381.37" cy="216" rx="14.6" ry="13.3" fill="#E0183B"/>
<ellipse cx="1411.70" cy="216" rx="14.6" ry="13.3" fill="#E0183B"/>
<clipPath id="c1108_216"><rect x="1427.43" y="202.7" width="5.26" height="26.6"/></clipPath>
<ellipse cx="1442.03" cy="216" rx="14.6" ry="13.3" fill="#E0183B" clip-path="url(#c1108_216)"/>
<path d="M1093 253.75H1220" stroke="#ccc" stroke-width="1"/>
<path d="M1229 273.8H1572" stroke="#8c8c8c" stroke-width="2"/>
<ellipse cx="1139.05" cy="299.6" rx="14.6" ry="13.3" fill="#D8E1EF"/>
<ellipse cx="1169.35" cy="299.6" rx="14.6" ry="13.3" fill="#D8E1EF"/>
<ellipse cx="1199.65" cy="299.6" rx="14.6" ry="13.3" fill="#D8E1EF"/>
<ellipse cx="1229.95" cy="299.6" rx="14.6" ry="13.3" fill="#D8E1EF"/>
<ellipse cx="1260.25" cy="299.6" rx="14.6" ry="13.3" fill="#D8E1EF"/>
<ellipse cx="1290.55" cy="299.6" rx="14.6" ry="13.3" fill="#D8E1EF"/>
<ellipse cx="1320.85" cy="299.6" rx="14.6" ry="13.3" fill="#D8E1EF"/>
<ellipse cx="1351.15" cy="299.6" rx="14.6" ry="13.3" fill="#D8E1EF"/>
<ellipse cx="1381.45" cy="299.6" rx="14.6" ry="13.3" fill="#D8E1EF"/>
<ellipse cx="1411.75" cy="299.6" rx="14.6" ry="13.3" fill="#D8E1EF"/>
<ellipse cx="1442.05" cy="299.6" rx="14.6" ry="13.3" fill="#D8E1EF"/>
<ellipse cx="1472.35" cy="299.6" rx="14.6" ry="13.3" fill="#D8E1EF"/>
<clipPath id="c1108_299"><rect x="1094.15" y="286.3" width="27.16" height="26.6"/></clipPath>
<ellipse cx="1108.75" cy="299.6" rx="14.6" ry="13.3" fill="#1B4CA2" clip-path="url(#c1108_299)"/>
<ellipse cx="1199.65" cy="333.8" rx="14.6" ry="13.3" fill="#FDEFA8"/>
<ellipse cx="1229.95" cy="333.8" rx="14.6" ry="13.3" fill="#FDEFA8"/>
<ellipse cx="1260.25" cy="333.8" rx="14.6" ry="13.3" fill="#FDEFA8"/>
<ellipse cx="1290.55" cy="333.8" rx="14.6" ry="13.3" fill="#FDEFA8"/>
<ellipse cx="1320.85" cy="333.8" rx="14.6" ry="13.3" fill="#FDEFA8"/>
<ellipse cx="1351.15" cy="333.8" rx="14.6" ry="13.3" fill="#FDEFA8"/>
<ellipse cx="1381.45" cy="333.8" rx="14.6" ry="13.3" fill="#FDEFA8"/>
<ellipse cx="1411.75" cy="333.8" rx="14.6" ry="13.3" fill="#FDEFA8"/>
<ellipse cx="1442.05" cy="333.8" rx="14.6" ry="13.3" fill="#FDEFA8"/>
<ellipse cx="1472.35" cy="333.8" rx="14.6" ry="13.3" fill="#FDEFA8"/>
<ellipse cx="1108.75" cy="333.8" rx="14.6" ry="13.3" fill="#FDD30B"/>
<ellipse cx="1139.05" cy="333.8" rx="14.6" ry="13.3" fill="#FDD30B"/>
<clipPath id="c1108_333"><rect x="1154.75" y="320.5" width="21.02" height="26.6"/></clipPath>
<ellipse cx="1169.35" cy="333.8" rx="14.6" ry="13.3" fill="#FDD30B" clip-path="url(#c1108_333)"/>
<ellipse cx="1472.35" cy="369.8" rx="14.6" ry="13.3" fill="#FAD6DA"/>
<ellipse cx="1108.75" cy="369.8" rx="14.6" ry="13.3" fill="#E0183B"/>
<ellipse cx="1139.05" cy="369.8" rx="14.6" ry="13.3" fill="#E0183B"/>
<ellipse cx="1169.35" cy="369.8" rx="14.6" ry="13.3" fill="#E0183B"/>
<ellipse cx="1199.65" cy="369.8" rx="14.6" ry="13.3" fill="#E0183B"/>
<ellipse cx="1229.95" cy="369.8" rx="14.6" ry="13.3" fill="#E0183B"/>
<ellipse cx="1260.25" cy="369.8" rx="14.6" ry="13.3" fill="#E0183B"/>
<ellipse cx="1290.55" cy="369.8" rx="14.6" ry="13.3" fill="#E0183B"/>
<ellipse cx="1320.85" cy="369.8" rx="14.6" ry="13.3" fill="#E0183B"/>
<ellipse cx="1351.15" cy="369.8" rx="14.6" ry="13.3" fill="#E0183B"/>
<ellipse cx="1381.45" cy="369.8" rx="14.6" ry="13.3" fill="#E0183B"/>
<ellipse cx="1411.75" cy="369.8" rx="14.6" ry="13.3" fill="#E0183B"/>
<ellipse cx="1442.05" cy="369.8" rx="14.6" ry="13.3" fill="#E0183B"/>
<clipPath id="c1108_369"><rect x="1457.75" y="356.5" width="4.38" height="26.6"/></clipPath>
<ellipse cx="1472.35" cy="369.8" rx="14.6" ry="13.3" fill="#E0183B" clip-path="url(#c1108_369)"/>
<circle cx="1108" cy="417.5" r="9.5" fill="#1C4AA5"/>
<circle cx="1108" cy="442" r="9.5" fill="#FDD30B"/>
<circle cx="1108" cy="465.5" r="9.5" fill="#DD1F2E"/>
<rect x="1089.5" y="482.5" width="486.5" height="100" fill="#fff" stroke="#4F81BD" stroke-width="4"/>
<path d="M1093 595.75H1573" stroke="#c8c8c8" stroke-width="1.3" stroke-dasharray="5.5 4"/>
<rect x="1090.5" y="607.5" width="73.75" height="73.75" rx="5" fill="#DD1A3F" />
<g id="icon_scale"><g fill="#fff" stroke="none">
<path d="M1127 616.4Q1130.4 620.6 1129.6 624Q1132.4 625.6 1132 629.4Q1131.4 633.6 1127 633.8Q1122.6 633.6 1122 629.4Q1121.6 625.6 1124.4 624Q1123.6 620.6 1127 616.4Z"/>
<path d="M1122 635H1132L1130.2 639.4V664L1134.6 672.6H1119.6L1124 664V639.4Z"/>
<circle cx="1108.6" cy="628.6" r="3"/><circle cx="1146" cy="628.6" r="3"/>
<path d="M1096.6 654.4H1121Q1119 663.6 1108.8 663.8Q1098.6 663.6 1096.6 654.4Z"/>
<path d="M1134 654.4H1158.4Q1156.4 663.6 1146.2 663.8Q1136 663.6 1134 654.4Z"/>
</g>
<g fill="none" stroke="#fff" stroke-linejoin="round" stroke-linecap="round">
<path d="M1108.6 628.4Q1117 623 1124 626.6M1146 628.4Q1137 623 1130 626.6" stroke-width="3"/>
<path d="M1098.6 654L1108.6 632L1119 654M1136 654L1146 632L1156.4 654" stroke-width="2.4"/>
</g>
</g>
<rect x="1090.5" y="700" width="129.50" height="22.00" rx="9.5" fill="#4A78C6" />
<path d="M1220 711.4H1485.6V730" fill="none" stroke="#4A78C6" stroke-width="1.8"/>
<path d="M1485.6 736L1480.8999999999999 724L1485.6 726.4L1490.3 724Z" fill="#4A78C6"/>
<rect x="1090.5" y="915.5" width="129.50" height="22.00" rx="9.5" fill="#4A78C6" />
<path d="M1220 925.75H1485.75V908" fill="none" stroke="#4A78C6" stroke-width="1.8"/>
<path d="M1485.75 902L1481.05 914L1485.75 911.6L1490.45 914Z" fill="#4A78C6"/>
<g id="police"><g fill="#DD1A3F" stroke="none">
<!-- car -->
<path d="M1185 793.8H1226Q1234.6 794.4 1236.6 803L1242 831.4H1235.6L1230.6 805Q1229.6 800.4 1225.6 800.2H1185Z"/>
<path d="M1196.8 777.3A11.4 11.2 0 0 1 1208.2 788.5H1185.4A11.4 11.2 0 0 1 1196.8 777.3Z"/>
<rect x="1170.5" y="831.2" width="82.6" height="46.4" rx="9"/>
<path d="M1223 874H1242V895a9.5 9.5 0 0 1 -19 0Z"/>
<g fill="none" stroke="#DD1A3F" stroke-width="5.6" stroke-linecap="round"><path d="M1174.6 764A36 36 0 0 1 1219.6 764"/><path d="M1183 772.6A24.5 24.5 0 0 1 1211 772.6"/></g>
</g>
<g fill="#fff"><circle cx="1230.5" cy="854.5" r="10"/><rect x="1183.6" y="846" width="27" height="5.2" rx="2.6"/><rect x="1183.6" y="857.6" width="27" height="5.2" rx="2.6"/></g>
<!-- white halo around officer -->
<g fill="#fff" stroke="#fff" stroke-width="4" stroke-linejoin="round">
<path d="M1121 783.5H1170Q1178 784 1179.4 792L1185.4 835.6A6.6 6.6 0 0 1 1172.4 838.6L1166 802L1170.4 852.6V898a9 9 0 0 1 -18 0V854H1139.4V898a9 9 0 0 1 -18 0V852.6L1126.4 802L1118.6 838.6A6.6 6.6 0 0 1 1105.6 835.6L1112 792Q1113 784 1121 783.5Z"/>
</g>
<g fill="#DD1A3F" stroke="none">
<path d="M1137.8 737.1H1153.4L1168 742.6Q1169.6 743.6 1168.6 745.6L1165.2 752.6H1125.4L1122.2 745.6Q1121.4 743.6 1123 742.6Z"/>
<path d="M1126.6 755H1164.2Q1165.4 766 1159 774Q1153 780.8 1145.3 780.8Q1137.6 780.8 1131.6 774Q1125.4 766 1126.6 754.8Z"/>
<!-- arms -->
<path d="M1121 783.5H1139.6L1127.6 800L1118.4 838.4A6.5 6.5 0 0 1 1105.8 835.6L1112.6 792Q1113.6 784 1121 783.5Z"/>
<path d="M1170 783.5H1151L1163 800L1172.6 838.4A6.5 6.5 0 0 0 1185.2 835.6L1178.6 792Q1177.4 784 1170 783.5Z"/>
<!-- torso + skirt + legs -->
<path d="M1132 783.5H1158.6L1163.4 801L1170.6 853.8H1165.8V897a8.6 8.6 0 0 1 -17.2 0V853.8H1142.8V897a8.6 8.6 0 0 1 -17.2 0V853.8H1121L1127.6 801Z"/>
</g>
<g fill="none" stroke="#fff" stroke-width="1.7" stroke-linecap="round"><path d="M1128.6 800L1121.4 838M1162 800L1169.6 838"/></g>
<!-- tie -->
<path d="M1145.2 783.6a5 5 0 0 1 4.4 7.6L1151 797L1148.6 815Q1147 821.6 1145.2 821.8Q1143.4 821.6 1141.8 815L1139.4 797L1140.8 791.2A5 5 0 0 1 1145.2 783.6Z" fill="#DD1A3F" stroke="#fff" stroke-width="1.6"/>
<!-- badge -->
<path d="M1139.8 740L1142.6 738.4L1145.3 740L1148 738.4L1150.8 740Q1152 746 1149.6 749.4Q1147.6 751.6 1145.3 752Q1143 751.6 1141 749.4Q1138.6 746 1139.8 740Z" fill="#fff"/>
<path d="M1145.3 742.2L1146.2 744.6L1148.6 744.7L1146.7 746.2L1147.4 748.6L1145.3 747.2L1143.2 748.6L1143.9 746.2L1142 744.7L1144.4 744.6Z" fill="#DD1A3F"/>
</g>
<rect x="1091.25" y="963.5" width="484.75" height="153.75" rx="25" fill="#DD1A3F" />
</svg>
<section id="population" aria-label="Өмнөговь аймгийн хүн ам">
<h2 class="t ft" style="left:105.94px;top:14.80px;font-size:22.6px;letter-spacing:-0.368px;word-spacing:1.02px;">ӨМНӨГОВЬ АЙМГИЙН ХҮН АМ</h2>
<div class="t ft" style="left:106.65px;top:42.10px;font-size:22.2px;letter-spacing:-0.632px;word-spacing:1.00px;">хугацааны эцэст</div>
<div class="t ft b" style="left:52.49px;top:100.70px;font-size:20.2px;color:#fff;letter-spacing:0.199px;">2017.XII</div>
<div class="t ft b" style="left:382.64px;top:150.70px;font-size:23.6px;letter-spacing:0.030px;">65645</div>
<div class="t ft b" style="left:382.64px;top:280.20px;font-size:23.6px;letter-spacing:0.122px;">66603</div>
<div class="t ft b" style="left:38.24px;top:329.45px;font-size:20.2px;color:#fff;letter-spacing:-0.436px;">2018.IX</div>
<p class="t ft j" style="left:213.15px;top:408.60px;font-size:18.1px;letter-spacing:-0.815px;width:279.46px;">Өмнөговь аймгийн хүн ам 2018</p>
<p class="t ft j" style="left:213.15px;top:439.80px;font-size:18.1px;letter-spacing:-0.815px;width:279.16px;">оны 3 дугаар улирлын байдлаар</p>
<p class="t ft j" style="left:212.87px;top:470.60px;font-size:18.1px;letter-spacing:-0.815px;width:279.47px;">66.6 мянгад хүрсэн нь оны эцсээс</p>
<p class="t ft" style="left:212.30px;top:501.00px;font-size:18.1px;letter-spacing:-0.733px;word-spacing:0.81px;">1.5 хувиар &nbsp;өссөн байна.</p>
</section>
<section id="births" aria-label="Төрсөн хүүхэд">
<h2 class="t ft" style="left:62.85px;top:566.00px;font-size:22.5px;letter-spacing:-0.349px;word-spacing:1.01px;">ТӨРСӨН ХҮҮХЭД</h2>
<div class="t ft" style="left:242.26px;top:566.00px;font-size:22px;letter-spacing:-0.561px;word-spacing:0.99px;">хугацааны эцэст</div>
<div class="t ft b" style="left:36.24px;top:595.70px;font-size:20.2px;color:#fff;letter-spacing:-0.561px;">2017.IX</div>
<div class="t ft b" style="left:397.26px;top:640.70px;font-size:23.6px;letter-spacing:0.399px;">909</div>
<div class="t ft b" style="left:389.79px;top:757.70px;font-size:23.6px;letter-spacing:0.044px;">1144</div>
<div class="t ft b" style="left:36.24px;top:808.20px;font-size:20.2px;color:#fff;letter-spacing:-0.561px;">2018.IX</div>
<p class="t ft j" style="left:158.75px;top:931.75px;font-size:19.7px;letter-spacing:-0.886px;width:321.48px;">Аймгийн хэмжээнд оны эхний 9</p>
<p class="t ft j" style="left:157.83px;top:959.00px;font-size:19.7px;letter-spacing:-0.932px;width:322.67px;">сарын байдлаар 1144 хүүхэд төрсөн</p>
<p class="t ft j" style="left:157.21px;top:986.75px;font-size:19.7px;letter-spacing:-0.886px;width:323.33px;">нь өнгөрсөн оны мөн үеэс &nbsp;235</p>
<p class="t ft j" style="left:158.44px;top:1014.00px;font-size:19.7px;letter-spacing:-0.886px;width:322.10px;">хүүхдээр буюу 25.9 хувиар өссөн</p>
<p class="t ft" style="left:157.83px;top:1041.00px;font-size:19.7px;letter-spacing:-0.316px;">байна.</p>
</section>
<section id="insurance" aria-label="Нийгмийн даатгал, халамж">
<h2 class="t ft" style="left:644.48px;top:14.50px;font-size:22.6px;letter-spacing:-0.395px;word-spacing:1.02px;">НИЙГМИЙН ДААТГАЛ, ХАЛАМЖ</h2>
<div class="t ft" style="left:645.90px;top:41.70px;font-size:22.2px;letter-spacing:-0.650px;word-spacing:1.00px;">хугацааны эцэст</div>
<div class="t ft b" style="left:693.74px;top:84.45px;font-size:20.2px;color:#fff;letter-spacing:-0.394px;">2017.IX</div>
<div class="t ft b" style="left:921.24px;top:85.20px;font-size:20.2px;color:#fff;letter-spacing:-0.561px;">2018.IX</div>
<div class="t ft" style="left:558.23px;top:132.00px;font-size:22.6px;letter-spacing:-0.059px;word-spacing:1.02px;">Нийгмийн даатгалын сан</div>
<div class="t ft b" style="left:726.80px;top:182.00px;font-size:19.2px;letter-spacing:-0.067px;">29.3</div>
<div class="t ft b" style="left:924.60px;top:182.00px;font-size:19.2px;letter-spacing:-0.100px;">30.9</div>
<div class="t fa b" style="left:751.49px;top:215.50px;font-size:16.4px;color:#fff;letter-spacing:0.001px;">ОРЛОГО, тэрбум төгрөг</div>
<div class="t ft b" style="left:726.80px;top:286.25px;font-size:19.2px;letter-spacing:-0.167px;">27.1</div>
<div class="t ft b" style="left:924.60px;top:286.25px;font-size:19.2px;letter-spacing:-0.100px;">30.5</div>
<div class="t fa b" style="left:750.49px;top:319.50px;font-size:16.4px;color:#fff;letter-spacing:-0.072px;">ЗАРЛАГА, тэрбум төгрөг</div>
</section>
<section id="unemployed" aria-label="Бүртгэлтэй ажилгүй иргэд">
<h2 class="t ft" style="left:643.24px;top:414.60px;font-size:22.5px;letter-spacing:-0.396px;word-spacing:1.01px;">БҮРТГЭЛТЭЙ АЖИЛГҮЙ ИРГЭД</h2>
<div class="t ft" style="left:644.66px;top:440.80px;font-size:21.9px;letter-spacing:-0.675px;word-spacing:0.99px;">хугацааны эцэст</div>
<div class="t ft b" style="left:579.74px;top:491.70px;font-size:20.2px;color:#fff;letter-spacing:-0.477px;">2017.IX</div>
<div class="t ft b" style="left:926.02px;top:540.70px;font-size:23.6px;letter-spacing:0.393px;">599</div>
<div class="t ft b" style="left:926.02px;top:657.70px;font-size:23.6px;letter-spacing:0.393px;">256</div>
<div class="t ft b" style="left:579.74px;top:728.70px;font-size:20.2px;color:#fff;letter-spacing:-0.477px;">2018.IX</div>
<p class="t ft j" style="left:740.78px;top:850.50px;font-size:19.5px;letter-spacing:-0.877px;width:281.76px;">2018 оны эхний 9 сарын</p>
<p class="t ft j" style="left:741.09px;top:877.50px;font-size:19.5px;letter-spacing:-0.877px;width:280.89px;">байдлаар аймгийн хэмжээнд</p>
<p class="t ft j" style="left:740.78px;top:904.00px;font-size:19.5px;letter-spacing:1.374px;width:283.45px;">256 ажил хайгч иргэд</p>
<p class="t ft j" style="left:741.09px;top:930.50px;font-size:19.5px;letter-spacing:1.292px;width:282.89px;">байгаагийн 46.9 хувийг</p>
<p class="t ft j" style="left:741.09px;top:957.00px;font-size:19.5px;letter-spacing:-0.877px;width:281.20px;">эмэгтэйчүүд байна. Нийт ажил</p>
<p class="t ft j" style="left:741.70px;top:983.00px;font-size:19.5px;letter-spacing:-0.877px;width:280.85px;">хайгч иргэдийг өмнөх оны мөн</p>
<p class="t ft j" style="left:741.70px;top:1009.00px;font-size:19.5px;letter-spacing:0.649px;width:282.06px;">үетэй харьцуулахад 57.3</p>
<p class="t ft" style="left:741.70px;top:1035.00px;font-size:19.5px;letter-spacing:-0.594px;word-spacing:0.88px;">хувиар буурчээ.</p>
</section>
<section id="cpi" aria-label="Хэрэглээний үнийн индекс">
<h2 class="t fa b" style="left:1174.50px;top:8.00px;font-size:16.8px;color:#222;transform:scaleX(1.14);transform-origin:0 0;letter-spacing:0.225px;">ХЭРЭГЛЭЭНИЙ ҮНИЙН ИНДЕСКИЙН</h2>
<div class="t fa b" style="left:1173.90px;top:28.30px;font-size:16.8px;color:#222;transform:scaleX(1.14);transform-origin:0 0;letter-spacing:0.198px;">ӨӨРЧЛӨЛТ, хувиар</div>
<div class="t fs" style="left:1097.36px;top:84.20px;font-size:18.7px;color:#111;transform:scaleX(1.1);transform-origin:0 0;letter-spacing:0.322px;">2017.IX</div>
<div class="t fa" style="left:1537.30px;top:112.00px;font-size:22.4px;color:#222;letter-spacing:1.234px;">0.2</div>
<div class="t fa" style="left:1534.30px;top:151.25px;font-size:22.4px;color:#222;letter-spacing:1.059px;">8.0</div>
<div class="t fa" style="left:1529.10px;top:192.00px;font-size:22.4px;color:#222;letter-spacing:0.404px;">10.5</div>
<div class="t fs" style="left:1097.76px;top:238.20px;font-size:18.7px;color:#111;transform:scaleX(1.1);transform-origin:0 0;letter-spacing:0.261px;">2018.IX</div>
<div class="t fa" style="left:1526.30px;top:263.75px;font-size:22.4px;color:#222;letter-spacing:0.503px;">-1.3</div>
<div class="t fa" style="left:1531.45px;top:307.00px;font-size:22.4px;color:#222;letter-spacing:1.409px;">6.6</div>
<div class="t fa" style="left:1530.30px;top:350.50px;font-size:22.4px;color:#222;letter-spacing:0.984px;">8.6</div>
<div class="t fa" style="left:1122.16px;top:385.00px;font-size:18px;color:#444;letter-spacing:0.479px;">Сарын</div>
<div class="t fa" style="left:1122.16px;top:409.00px;font-size:18px;color:#444;letter-spacing:0.139px;">Оны эхнээс</div>
<div class="t fa" style="left:1123.00px;top:432.50px;font-size:18px;color:#444;letter-spacing:0.199px;">Жилийн</div>
<p class="t ft j" style="left:1106.20px;top:470.50px;font-size:19.3px;letter-spacing:-0.869px;width:455.36px;">Аймгийн хэрэглээний үнийн ерөнхий индексийг</p>
<p class="t ft j" style="left:1104.99px;top:497.30px;font-size:19.3px;letter-spacing:-0.869px;width:457.22px;">2018 оны 9 сарыг өнгөрсөн оны мөн үетэй</p>
<p class="t ft" style="left:1105.90px;top:524.70px;font-size:19.3px;letter-spacing:-0.605px;word-spacing:0.87px;">харьцуулахад 8.6 хувиар өссөн байна.</p>
</section>
<section id="crime" aria-label="Бүртгэгдсэн гэмт хэрэг">
<h2 class="t ft" style="left:1188.84px;top:600.80px;font-size:22.5px;letter-spacing:-0.339px;word-spacing:1.01px;">БҮРТГЭГДСЭН ГЭМТ ХЭРЭГ</h2>
<div class="t ft" style="left:1190.06px;top:628.00px;font-size:21.9px;letter-spacing:-0.453px;word-spacing:0.99px;">хугацааны эцэст</div>
<div class="t ft b" style="left:1112.49px;top:678.20px;font-size:20.2px;color:#fff;letter-spacing:-0.436px;">2017.IX</div>
<div class="t ft b" style="left:1472.64px;top:723.70px;font-size:23.6px;letter-spacing:0.208px;">339</div>
<div class="t ft b" style="left:1472.64px;top:847.70px;font-size:23.6px;letter-spacing:0.208px;">371</div>
<div class="t ft b" style="left:1112.49px;top:893.20px;font-size:20.2px;color:#fff;letter-spacing:-0.436px;">2018.IX</div>
<p class="t ft" style="left:1108.98px;top:958.75px;font-size:19.5px;color:#14000a;letter-spacing:-0.686px;word-spacing:0.88px;">2018 оны эхний 9 сарын байдлаар аймгийн</p>
<p class="t ft" style="left:1109.90px;top:985.50px;font-size:19.5px;color:#14000a;letter-spacing:-0.795px;word-spacing:0.88px;">хэмжээнд &nbsp;гэмт хэрэг 256 гарсан нь өмнөх оны</p>
<p class="t ft" style="left:1108.68px;top:1012.50px;font-size:19.5px;color:#14000a;letter-spacing:-0.630px;word-spacing:0.88px;">мөн үеэс 31 хэргээр буюу 9.1 хувиар өссөн</p>
<p class="t ft" style="left:1109.90px;top:1038.00px;font-size:19.5px;color:#14000a;letter-spacing:-0.734px;word-spacing:0.88px;">үзүүлэлттэй байна.</p>
</section>
</main>
</body>
</html>
